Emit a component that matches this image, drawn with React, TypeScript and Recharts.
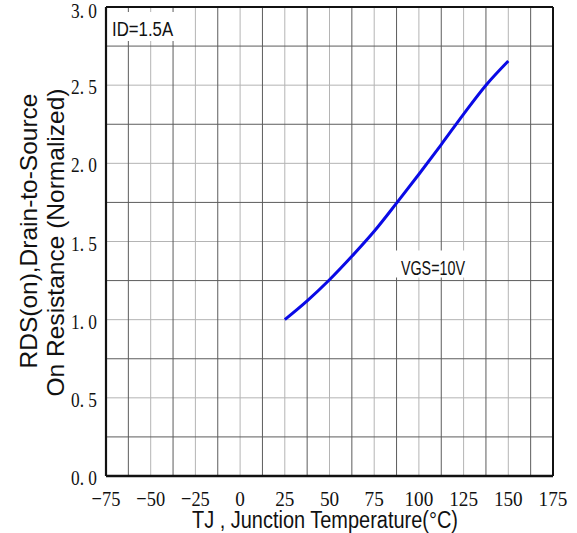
import {
  CartesianGrid,
  Line,
  LineChart,
  ReferenceArea,
  ReferenceLine,
  XAxis,
  YAxis,
} from 'recharts'

// junction temperature (°C) vs normalized RDS(on)
const tempC = [25, 37.5, 50, 62.5, 75, 87.5, 100, 112.5, 125, 137.5, 150]
const rdsNorm = [1.0, 1.12, 1.255, 1.405, 1.565, 1.745, 1.93, 2.12, 2.315, 2.5, 2.655]

const xTicks = [-75, -50, -25, 0, 25, 50, 75, 100, 125, 150, 175]
const yTicks = [0, 0.5, 1.0, 1.5, 2.0, 2.5, 3.0]
const xMinor = [-62.5, -37.5, -12.5, 12.5, 37.5, 62.5, 87.5, 112.5, 137.5, 162.5]
const yMinor = [0.25, 0.75, 1.25, 1.75, 2.25, 2.75]

const data = tempC.map((t, i) => ({ t, r: rdsNorm[i] }))

const SERIF = '"Liberation Serif", "DejaVu Serif", serif'
const SANS = '"Liberation Sans", Arial, sans-serif'

const LIGHT = '#b4b4b4'
const DARK = '#5c5c5c'

function XTick({ x, y, payload }: any) {
  const v = payload.value as number
  const s = v < 0 ? `\u2212${Math.abs(v)}` : String(v)
  return (
    <text x={x} y={y} dy={30} textAnchor="middle" fontFamily={SERIF} fontSize={22} fill="#111"
      textLength={s.length * 9.6} lengthAdjust="spacingAndGlyphs">
      {s}
    </text>
  )
}

function YTick({ x, y, payload }: any) {
  const v = payload.value as number
  const s = v.toFixed(1).replace('.', '. ')
  return (
    <text x={x} y={y} dy={9} textAnchor="end" fontFamily={SERIF} fontSize={22} fill="#111"
      textLength={26} lengthAdjust="spacingAndGlyphs">
      {s}
    </text>
  )
}

// annotation text sitting in a white box (the box is the ReferenceArea)
function AnnLabel({ viewBox, value, dx, dy, w, fs }: any) {
  if (!viewBox) return null
  return (
    <text
      x={viewBox.x + dx}
      y={viewBox.y + viewBox.height - dy}
      fontFamily={SANS}
      fontSize={fs}
      fill="#111"
      textLength={w}
      lengthAdjust="spacingAndGlyphs"
    >
      {value}
    </text>
  )
}

export default function App() {
  return (
    <div style={{ position: 'absolute', left: 0, top: 0, background: '#fff' }}>
      <LineChart
        width={577}
        height={533}
        data={data}
        margin={{ top: 7, right: 24, left: 46, bottom: 27 }}
      >
        <CartesianGrid
          horizontalValues={yTicks}
          verticalValues={xTicks}
          stroke={LIGHT}
          strokeDasharray=""
        />
        <CartesianGrid
          horizontalValues={yMinor}
          verticalValues={xMinor}
          stroke={DARK}
          strokeDasharray=""
        />
        <XAxis
          dataKey="t"
          type="number"
          domain={[-75, 175]}
          ticks={xTicks}
          tick={<XTick />}
          tickSize={0}
          tickMargin={0}
          axisLine={false}
          tickLine={false}
          height={30}
          allowDataOverflow
        />
        <YAxis
          type="number"
          domain={[0, 3]}
          ticks={yTicks}
          tick={<YTick />}
          tickSize={0}
          tickMargin={9}
          axisLine={false}
          tickLine={false}
          width={60}
          allowDataOverflow
        />

        <ReferenceArea
          x1={-74.4}
          x2={-36.4}
          y1={2.782}
          y2={2.968}
          fill="#fff"
          fillOpacity={1}
          stroke="none"
          label={<AnnLabel value="ID=1.5A" dx={5} dy={5} w={61} fs={20.5} />}
        />
        <ReferenceArea
          x1={86.6}
          x2={131.6}
          y1={1.269}
          y2={1.442}
          fill="#fff"
          fillOpacity={1}
          stroke="none"
          label={<AnnLabel value="VGS=10V" dx={6} dy={3} w={64} fs={21} />}
        />

        {/* frame */}
        <ReferenceLine x={-75} stroke="#111" strokeWidth={2.2} />
        <ReferenceLine x={175} stroke="#111" strokeWidth={2} />
        <ReferenceLine y={0} stroke="#111" strokeWidth={2.4} />
        <ReferenceLine y={3} stroke="#111" strokeWidth={2} />

        <Line
          type="monotone"
          dataKey="r"
          stroke="#0a0ae6"
          strokeWidth={3}
          dot={false}
          activeDot={false}
          isAnimationActive={false}
        />

        <text x={325} y={528} textAnchor="middle" fontFamily={SANS} fontSize={23} fill="#111" textLength={266} lengthAdjust="spacingAndGlyphs">
          TJ , Junction Temperature(°C)
        </text>
        <text
          transform="translate(37,231) rotate(-90)"
          textAnchor="middle"
          fontFamily={SANS}
          fontSize={24}
          fill="#111"
          textLength={275}
          lengthAdjust="spacingAndGlyphs"
        >
          RDS(on),Drain-to-Source
        </text>
        <text
          transform="translate(64,242.5) rotate(-90)"
          textAnchor="middle"
          fontFamily={SANS}
          fontSize={24}
          fill="#111"
          textLength={308}
          lengthAdjust="spacingAndGlyphs"
        >
          On Resistance (Normalized)
        </text>
      </LineChart>
    </div>
  )
}
